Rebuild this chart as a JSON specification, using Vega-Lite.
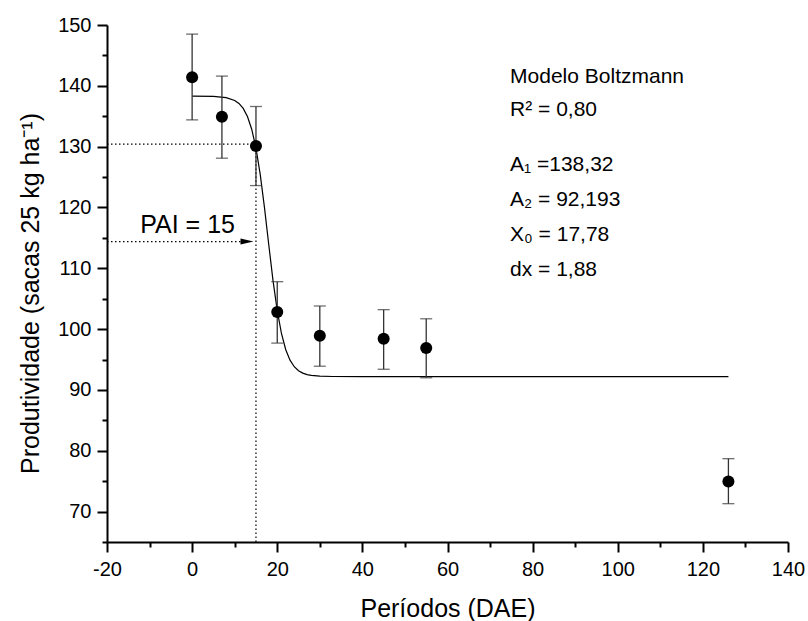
{
  "$schema": "https://vega.github.io/schema/vega-lite/v6.json",
  "width": 681,
  "height": 517,
  "autosize": {"type": "none"},
  "padding": {"left": 107, "top": 25, "right": 20, "bottom": 79},
  "background": "white",
  "config": {
    "view": {"stroke": null},
    "font": "Liberation Sans",
    "axis": {
      "grid": false,
      "domainColor": "black",
      "domainWidth": 2,
      "tickColor": "black",
      "tickWidth": 2,
      "labelFont": "Liberation Sans",
      "labelFontSize": 20,
      "labelColor": "black",
      "titleFont": "Liberation Sans",
      "titleFontSize": 25,
      "titleFontWeight": "normal",
      "titleColor": "black"
    }
  },
  "datasets": {
    "obs": [
      {"dae": 0, "prod": 141.4, "lo": 134.4, "hi": 148.5},
      {"dae": 7, "prod": 134.9, "lo": 128.1, "hi": 141.6},
      {"dae": 15, "prod": 130.1, "lo": 123.6, "hi": 136.6},
      {"dae": 20, "prod": 102.8, "lo": 97.7, "hi": 107.8},
      {"dae": 30, "prod": 98.9, "lo": 93.9, "hi": 103.8},
      {"dae": 45, "prod": 98.4, "lo": 93.4, "hi": 103.2},
      {"dae": 55, "prod": 96.9, "lo": 92.0, "hi": 101.7},
      {"dae": 126, "prod": 74.95, "lo": 71.3, "hi": 78.7}
    ],
    "curve": [
      {"dae": 0, "prod": 138.32},
      {"dae": 5, "prod": 138.27},
      {"dae": 8, "prod": 138.07},
      {"dae": 10, "prod": 137.6},
      {"dae": 11, "prod": 137.1},
      {"dae": 12, "prod": 136.28},
      {"dae": 13, "prod": 134.96},
      {"dae": 14, "prod": 132.87},
      {"dae": 15, "prod": 129.76},
      {"dae": 16, "prod": 125.43},
      {"dae": 17, "prod": 119.98},
      {"dae": 18, "prod": 113.91},
      {"dae": 19, "prod": 108.02},
      {"dae": 20, "prod": 103.03},
      {"dae": 21, "prod": 99.24},
      {"dae": 22, "prod": 96.61},
      {"dae": 23, "prod": 94.9},
      {"dae": 24, "prod": 93.82},
      {"dae": 25, "prod": 93.16},
      {"dae": 26, "prod": 92.77},
      {"dae": 27, "prod": 92.53},
      {"dae": 28, "prod": 92.39},
      {"dae": 30, "prod": 92.26},
      {"dae": 33, "prod": 92.21},
      {"dae": 40, "prod": 92.19},
      {"dae": 126, "prod": 92.19}
    ]
  },
  "resolve": {"axis": {"x": "independent", "y": "independent"}},
  "layer": [
    {
      "data": {"name": "curve"},
      "mark": {"type": "line", "color": "black", "strokeWidth": 1.2},
      "encoding": {
        "x": {"field": "dae", "type": "quantitative",
              "scale": {"domain": [-20, 140], "nice": false, "zero": false},
              "axis": {"orient": "bottom", "title": "Períodos (DAE)", "values": [-20, 0, 20, 40, 60, 80, 100, 120, 140],
                       "labelExpr": "'' + datum.value",
                       "tickSize": 10, "labelPadding": 7, "titleY": 54, "titleBaseline": "top", "labelFlush": false, "labelOverlap": false}},
        "y": {"field": "prod", "type": "quantitative",
              "scale": {"domain": [65, 150], "nice": false, "zero": false},
              "axis": {"orient": "left", "title": "Produtividade (sacas 25 kg ha⁻¹)", "values": [70, 80, 90, 100, 110, 120, 130, 140, 150],
                       "labelExpr": "'' + datum.value",
                       "tickSize": 10, "labelPadding": 6, "titleX": -64, "titleY": 268, "titleBaseline": "bottom", "labelFlush": false, "labelOverlap": false}}
      }
    },
    {
      "data": {"values": [
        {"x1": -20, "x2": 15, "y1": 130.4, "y2": 130.4},
        {"x1": 15, "x2": 15, "y1": 65, "y2": 130.4},
        {"x1": -20, "x2": 12.5, "y1": 114.4, "y2": 114.4}
      ]},
      "mark": {"type": "rule", "color": "black", "strokeWidth": 1.2, "strokeDash": [1.5, 2.5]},
      "encoding": {
        "x": {"field": "x1", "type": "quantitative",
              "axis": {"orient": "bottom", "title": null, "labels": false, "domain": false, "tickSize": 5,
                       "values": [-10, 10, 30, 50, 70, 90, 110, 130]}},
        "x2": {"field": "x2"},
        "y": {"field": "y1", "type": "quantitative",
              "axis": {"orient": "left", "title": null, "labels": false, "domain": false, "tickSize": 5,
                       "values": [65, 75, 85, 95, 105, 115, 125, 135, 145]}},
        "y2": {"field": "y2"}
      }
    },
    {
      "data": {"values": [{"x": 12.9, "y": 114.4}]},
      "mark": {"type": "point", "shape": "M-1,-0.45L1,0L-1,0.45Z", "filled": true, "color": "black", "size": 169, "opacity": 1},
      "encoding": {
        "x": {"field": "x", "type": "quantitative", "axis": null},
        "y": {"field": "y", "type": "quantitative", "axis": null}
      }
    },
    {
      "data": {"name": "obs"},
      "mark": {"type": "rule", "color": "#333333", "strokeWidth": 1.3},
      "encoding": {
        "x": {"field": "dae", "type": "quantitative", "axis": null},
        "y": {"field": "lo", "type": "quantitative", "axis": null},
        "y2": {"field": "hi"}
      }
    },
    {
      "data": {"name": "obs"},
      "mark": {"type": "tick", "orient": "horizontal", "color": "#333333", "size": 12, "thickness": 1.3},
      "encoding": {
        "x": {"field": "dae", "type": "quantitative", "axis": null},
        "y": {"field": "lo", "type": "quantitative", "axis": null}
      }
    },
    {
      "data": {"name": "obs"},
      "mark": {"type": "tick", "orient": "horizontal", "color": "#333333", "size": 12, "thickness": 1.3},
      "encoding": {
        "x": {"field": "dae", "type": "quantitative", "axis": null},
        "y": {"field": "hi", "type": "quantitative", "axis": null}
      }
    },
    {
      "data": {"name": "obs"},
      "mark": {"type": "circle", "color": "black", "size": 145, "opacity": 1},
      "encoding": {
        "x": {"field": "dae", "type": "quantitative", "axis": null},
        "y": {"field": "prod", "type": "quantitative", "axis": null}
      }
    },
    {
      "data": {"values": [
        {"x": 74.7, "y": 141.5, "t": "Modelo Boltzmann"},
        {"x": 74.7, "y": 136.0, "t": "R² = 0,80"},
        {"x": 74.7, "y": 127.0, "t": "A₁ =138,32"},
        {"x": 74.7, "y": 121.25, "t": "A₂ = 92,193"},
        {"x": 74.7, "y": 115.5, "t": "X₀ = 17,78"},
        {"x": 74.7, "y": 109.7, "t": "dx = 1,88"}
      ]},
      "mark": {"type": "text", "align": "left", "baseline": "middle", "fontSize": 21, "font": "Liberation Sans", "color": "black"},
      "encoding": {
        "x": {"field": "x", "type": "quantitative", "axis": null},
        "y": {"field": "y", "type": "quantitative", "axis": null},
        "text": {"field": "t"}
      }
    },
    {
      "data": {"values": [{"x": -12.2, "y": 117.1, "t": "PAI = 15"}]},
      "mark": {"type": "text", "align": "left", "baseline": "middle", "fontSize": 25, "font": "Liberation Sans", "color": "black"},
      "encoding": {
        "x": {"field": "x", "type": "quantitative", "axis": null},
        "y": {"field": "y", "type": "quantitative", "axis": null},
        "text": {"field": "t"}
      }
    }
  ]
}
